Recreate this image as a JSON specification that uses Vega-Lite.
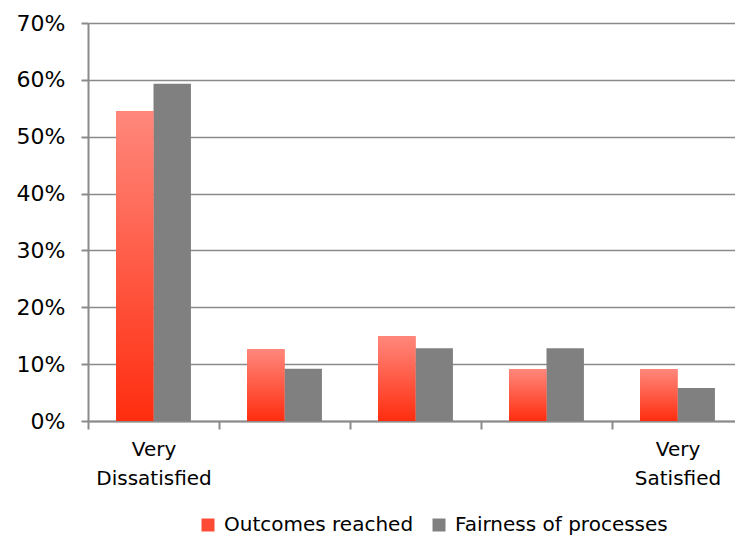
{
  "$schema": "https://vega.github.io/schema/vega-lite/v6.json",
  "width": 655,
  "height": 398,
  "autosize": "none",
  "padding": {"left": 88, "top": 23, "right": -8, "bottom": 117},
  "background": "white",
  "config": {"view": {"stroke": null}, "font": "DejaVu Sans"},
  "data": {
    "values": [
      {"rating": "Very Dissatisfied", "series": "Outcomes reached", "value": 0.545},
      {"rating": "Very Dissatisfied", "series": "Fairness of processes", "value": 0.593},
      {"rating": "2", "series": "Outcomes reached", "value": 0.126},
      {"rating": "2", "series": "Fairness of processes", "value": 0.092},
      {"rating": "3", "series": "Outcomes reached", "value": 0.149},
      {"rating": "3", "series": "Fairness of processes", "value": 0.128},
      {"rating": "4", "series": "Outcomes reached", "value": 0.091},
      {"rating": "4", "series": "Fairness of processes", "value": 0.128},
      {"rating": "Very Satisfied", "series": "Outcomes reached", "value": 0.091},
      {"rating": "Very Satisfied", "series": "Fairness of processes", "value": 0.058}
    ]
  },
  "encoding": {
    "x": {
      "field": "rating",
      "type": "nominal",
      "sort": null,
      "scale": {"paddingInner": 0, "paddingOuter": 0},
      "axis": {
        "title": null,
        "labelAngle": 0,
        "tickBand": "extent",
        "labelExpr": "datum.label == 'Very Dissatisfied' ? ['Very', 'Dissatisfied'] : datum.label == 'Very Satisfied' ? ['Very', 'Satisfied'] : ''",
        "domainColor": "#8a8a8a",
        "domainWidth": 2,
        "tickColor": "#8a8a8a",
        "tickWidth": 2,
        "tickSize": 8,
        "labelFontSize": 20,
        "labelColor": "#000000",
        "labelLineHeight": 29,
        "labelPadding": 10
      }
    },
    "xOffset": {
      "field": "series",
      "type": "nominal",
      "scale": {"domain": ["Outcomes reached", "Fairness of processes"], "paddingInner": 0, "paddingOuter": 0.75}
    },
    "y": {
      "field": "value",
      "type": "quantitative",
      "scale": {"domain": [0, 0.7]},
      "axis": {
        "title": null,
        "values": [0, 0.1, 0.2, 0.3, 0.4, 0.5, 0.6, 0.7],
        "format": ".0%",
        "grid": true,
        "gridColor": "#8a8a8a",
        "gridWidth": 1.5,
        "domainColor": "#8a8a8a",
        "domainWidth": 2,
        "tickColor": "#8a8a8a",
        "tickWidth": 2,
        "tickSize": 7,
        "labelPadding": 16,
        "labelFontSize": 22,
        "labelColor": "#000000"
      }
    }
  },
  "layer": [
    {
      "mark": {"type": "bar"},
      "encoding": {
        "color": {
          "field": "series",
          "type": "nominal",
          "scale": {
            "domain": ["Outcomes reached", "Fairness of processes"],
            "range": ["#ff4a35", "#808080"]
          },
          "legend": {
            "orient": "none",
            "legendX": 110,
            "legendY": 492,
            "direction": "horizontal",
            "title": null,
            "symbolType": "square",
            "symbolSize": 169,
            "symbolStrokeWidth": 0,
            "symbolOpacity": 1,
            "labelFontSize": 20,
            "labelLimit": 0,
            "labelColor": "#000000",
            "labelOffset": 6,
            "columnPadding": 15
          }
        }
      }
    },
    {
      "transform": [{"filter": "datum.series == 'Outcomes reached'"}],
      "mark": {
        "type": "bar",
        "fill": {"gradient": "linear", "x1": 0, "y1": 0, "x2": 0, "y2": 1, "stops": [{"offset": 0, "color": "#ff887c"}, {"offset": 1, "color": "#ff2d0f"}]}
      }
    }
  ]
}
